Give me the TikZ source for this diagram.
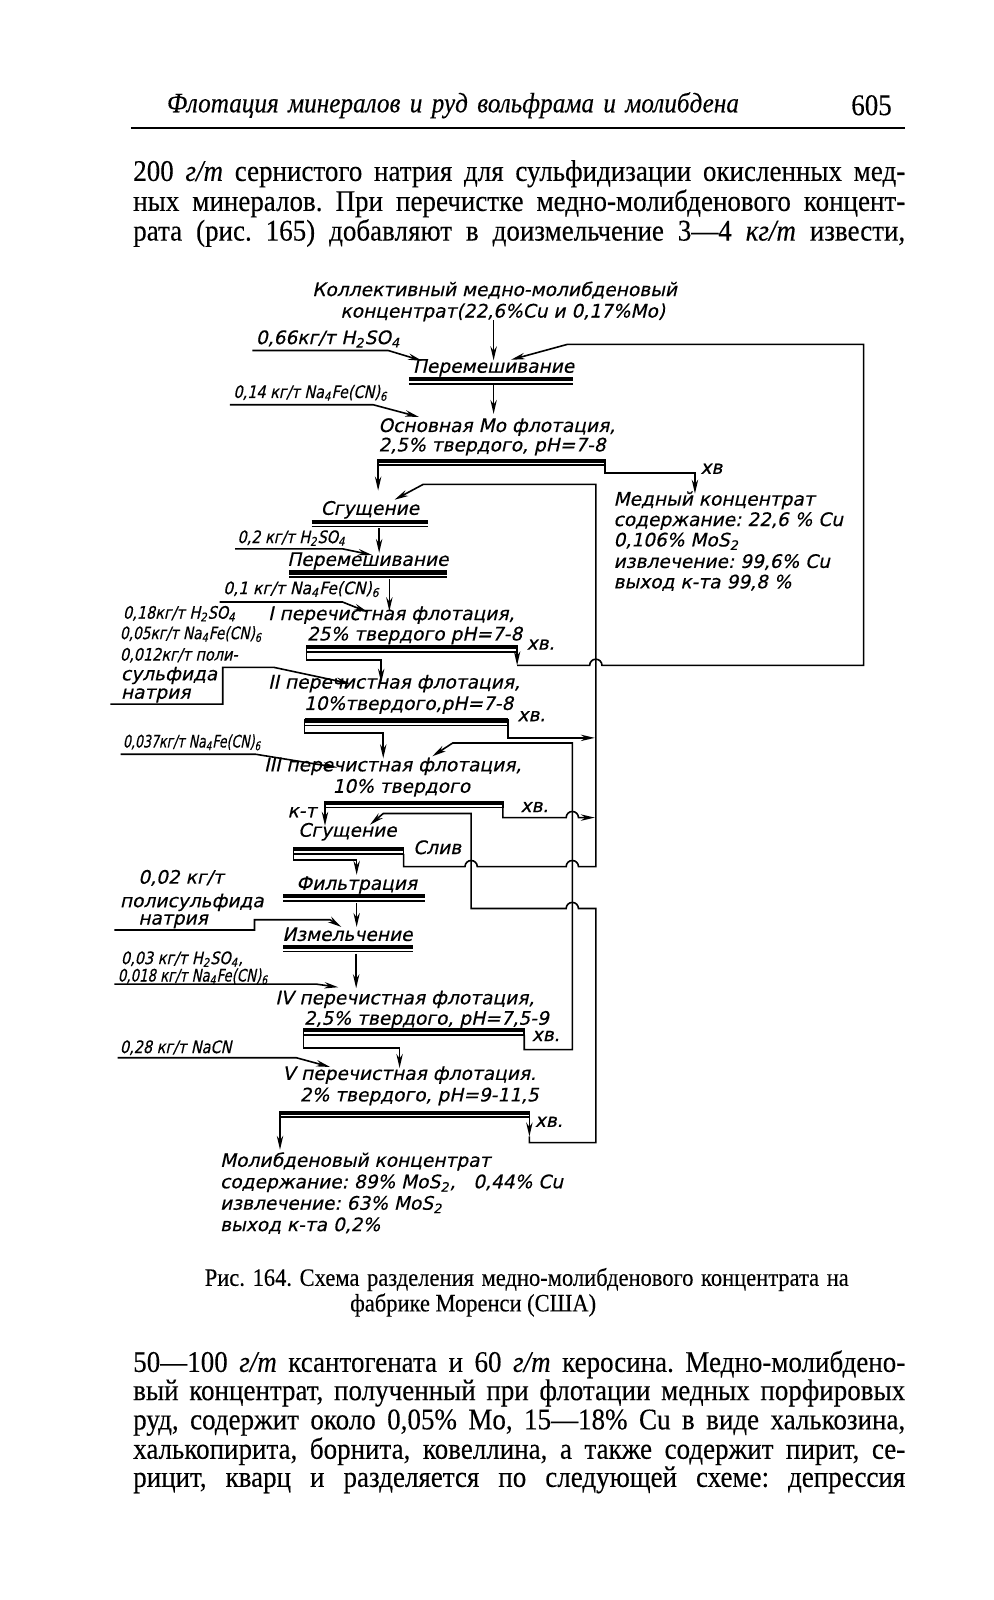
\documentclass[tikz,border=0pt]{standalone}
\usepackage{fontspec}
\setmainfont[FakeStretch=0.9,FakeBold=0.25]{Liberation Serif}
\newfontfamily\dfont[FakeSlant=0.22,FakeBold=0.4]{DejaVu Sans}
\newfontfamily\dnarrow[FakeSlant=0.22,FakeStretch=0.84,FakeBold=0.4]{DejaVu Sans}
\usetikzlibrary{arrows.meta}
\tikzset{
  pipe/.style={line width=0.8pt},
  flow/.style={line width=0.8pt,-{Stealth[length=7pt,width=3.2pt]}},
  bar/.style={line width=2.2pt},
  lbl/.style={font=\dfont\fontsize{9.3}{11}\selectfont,inner sep=0pt,anchor=west,text height=6pt,text depth=1.2pt},
  lbln/.style={font=\dnarrow\fontsize{8.6}{10}\selectfont,inner sep=0pt,anchor=west,text height=5.6pt,text depth=1.1pt},
  txt/.style={font=\fontsize{15}{17}\selectfont,inner sep=0pt,anchor=west},
  hdr/.style={font=\fontsize{14}{16}\selectfont\itshape,inner sep=0pt,anchor=west},
  capt/.style={font=\fontsize{12.5}{14}\selectfont,inner sep=0pt,anchor=west},
}
\newcommand{\hopR}[2]{-- (#1-6,#2) arc[start angle=180,end angle=0,radius=3.07pt]}
\newcommand{\hopL}[2]{-- (#1+6,#2) arc[start angle=0,end angle=180,radius=3.07pt]}
\newcommand{\flotcell}[4]{%
  \draw[pipe] (#1,#3) rectangle (#2,#4);
  \draw[bar] (#1,#3+1) -- (#2,#3+1);}
\newcommand{\dbar}[3]{%
  \draw[bar] (#1,#3) -- (#2,#3);
  \draw[pipe] (#1,#3+4.5) -- (#2,#3+4.5);}
\newcommand{\squeeze}[2]{\scalebox{#1}[1]{#2}}
\begin{document}
\frenchspacing
\begin{tikzpicture}[x=0.511pt,y=-0.511pt]
\fill[white] (0,0) rectangle (972.6,1565.6);
\useasboundingbox (0,0) rectangle (972.6,1565.6);

\node[hdr] (head) at (163,103) {\makebox[286pt][s]{Флотация минералов и руд вольфрама и молибдена}};
\node[txt,anchor=east] (pageno) at (873,103) {605};
\draw[pipe] (128,125) -- (886,125);
\node[txt] (la) at (130,170) {\makebox[386pt][s]{200 \textit{г/т} сернистого натрия для сульфидизации окисленных мед-}};
\node[txt] (lb) at (130,199) {\makebox[386pt][s]{ных минералов. При перечистке медно-молибденового концент-}};
\node[txt] (lc) at (130,228) {\makebox[386pt][s]{рата (рис. 165) добавляют в доизмельчение 3—4 \textit{кг/т} извести,}};

\node[lbl,anchor=center] (feedA) at (484,285) {Коллективный медно-молибденовый};
\node[lbl,anchor=center] (feedB) at (492,306) {концентрат(22,6\%Cu и 0,17\%Mo)};
\node[lbl,anchor=center] (mixA) at (483,360) {Перемешивание};
\draw[flow] (feedB.south -| mixA) -- (mixA.north);
\dbar{400}{561}{371}
\node[lbl] (r66) at (250,332) {0,66кг/т H\textsubscript{2}SO\textsubscript{4}};
\draw[flow] (247,343) -- (380,343) -- (413,353);
\draw[flow] (483,377) -- (483,405);
\node[lbln] (r14) at (228,385) {0,14 кг/т Na\textsubscript{4}Fe(CN)\textsubscript{6}};
\draw[flow] (225,396) -- (365,396) -- (410,408);

\node[lbl] (flMa) at (370,418) {Основная Mo флотация,};
\node[lbl] (flMb) at (370,437) {2,5\% твердого, pH=7-8};
\flotcell{370}{592}{450}{455}
\draw[flow] (370,455) -- (370,480);
\draw[flow] (592,455) -- (592,463) -- (680,463) -- (680,483);
\node[lbl] (xvM) at (685,459) {хв};
\node[lbl] (cuA) at (600,490) {Медный концентрат};
\node[lbl] (cuB) at (600,510) {содержание: 22,6 \% Cu};
\node[lbl] (cuC) at (600,530) {0,106\% MoS\textsubscript{2}};
\node[lbl] (cuD) at (600,551) {извлечение: 99,6\% Cu};
\node[lbl] (cuE) at (600,571) {выход к-та 99,8 \%};

\node[lbl,anchor=center] (thA) at (362,499) {Сгущение};
\dbar{305}{419}{510.5}
\draw[flow] (371,517) -- (371,541);
\node[lbln] (r2) at (232,527) {0,2 кг/т H\textsubscript{2}SO\textsubscript{4}};
\draw[flow] (230,537) -- (335,537) -- (364,543);
\node[lbl,anchor=center] (mixB) at (360,549) {Перемешивание};
\dbar{283}{437}{560}
\node[lbln] (r1) at (218,577) {\squeeze{1.08}{0,1 кг/т Na\textsubscript{4}Fe(CN)\textsubscript{6}}};
\draw[flow] (215,589) -- (335,589) -- (360,599);
\draw[flow] (381,567) -- (381,598);

\node[lbln] (rl1) at (120,601) {0,18кг/т H\textsubscript{2}SO\textsubscript{4}};
\node[lbln] (rl2) at (117,621) {\squeeze{0.95}{0,05кг/т Na\textsubscript{4}Fe(CN)\textsubscript{6}}};
\node[lbln] (rl3) at (117,642) {0,012кг/т поли-};
\node[lbl] (rl4) at (118,661) {сульфида};
\node[lbl] (rl5) at (118,679) {натрия};
\draw[flow] (108,689) -- (218,689) -- (218,653) -- (268,653) -- (343,669);

\node[lbl] (flIa) at (262,602) {I перечистная флотация,};
\node[lbl] (flIb) at (300,622) {25\% твердого pH=7-8};
\flotcell{300}{506}{632}{638}
\node[lbl] (xvI) at (515,631) {хв.};
\draw[flow] (506,638) -- (506,651);
\draw[flow] (506,651) \hopR{583}{651} -- (845,651) -- (845,337) -- (555,337) -- (500,352);
\draw[flow] (300,638) -- (300,646) -- (373,646) -- (373,668);

\node[lbl] (flIIa) at (262,669) {II перечистная флотация,};
\node[lbl] (flIIb) at (297,690) {10\%твердого,pH=7-8};
\flotcell{298}{497}{704}{710}
\node[lbl] (xvII) at (506,701) {хв.};
\draw[flow] (497,710) -- (497,722) -- (582,722);
\draw[flow] (298,710) -- (298,717) -- (375,717) -- (375,742);
\node[lbln] (r037) at (120,727) {\squeeze{0.87}{0,037кг/т Na\textsubscript{4}Fe(CN)\textsubscript{6}}};
\draw[flow] (118,738) -- (250,738) -- (330,751);

\node[lbl] (flIIIa) at (258,750) {III перечистная флотация,};
\node[lbl] (flIIIb) at (325,771) {10\% твердого};
\flotcell{318}{492}{784.5}{790}
\node[lbl] (xvIII) at (509,790) {хв.};
\draw[flow] (492,790) -- (492,800) \hopR{560}{800} -- (582,800);
\node[lbl] (kt) at (281,795) {к-т};
\draw[flow] (318,790) -- (318,808);

\node[lbl,anchor=center] (thB) at (340,814) {Сгущение};
\flotcell{287}{395}{830}{835.5}
\node[lbl] (sliv) at (404,831) {Слив};
\draw[flow] (395,835.5) -- (395,848) \hopR{461}{848} \hopR{560}{848} -- (583,848) -- (583,474) -- (414,474) -- (386,489);
\draw[flow] (287,835.5) -- (287,841.5) -- (349,841.5) -- (349,856);

\node[lbl,anchor=center] (filt) at (349,866) {Фильтрация};
\dbar{277}{416}{877}
\node[lbl] (rpA) at (135,860) {0,02 кг/т};
\node[lbl] (rpB) at (117,883) {полисульфида};
\node[lbl] (rpC) at (135,900) {натрия};
\draw[flow] (112,910) -- (249,910) -- (249,900) -- (323,900) -- (334,907);
\draw[flow] (349,884) -- (349,907);
\node[lbl,anchor=center] (grind) at (340,916) {Измельчение};
\dbar{277}{404}{926.5}
\draw[flow] (348.5,933) -- (348.5,967);
\node[lbln] (r03) at (118,939) {0,03 кг/т H\textsubscript{2}SO\textsubscript{4},};
\node[lbln] (r018) at (115,956) {\squeeze{0.92}{0,018 кг/т Na\textsubscript{4}Fe(CN)\textsubscript{6}}};
\draw[flow] (112,963) -- (310,963) -- (331,966);

\node[lbl] (flIVa) at (269,978) {IV перечистная флотация,};
\node[lbl] (flIVb) at (297,998) {2,5\% твердого, pH=7,5-9};
\flotcell{297}{513}{1007}{1013}
\node[lbl] (xvIV) at (520,1014) {хв.};
\draw[flow] (513,1013) -- (513,1027) -- (560,1027) -- (560,727) -- (443,727) -- (423,740);
\draw[flow] (297,1013) -- (297,1025.5) -- (391,1025.5) -- (391,1045);
\node[lbln] (rcn) at (117,1026) {0,28 кг/т NaCN};
\draw[flow] (115,1035) -- (290,1035) -- (323,1044);

\node[lbl] (flVa) at (276,1052) {V перечистная флотация.};
\node[lbl] (flVb) at (293,1073) {2\% твердого, pH=9-11,5};
\flotcell{274}{518}{1088}{1093}
\node[lbl] (xvV) at (523,1098) {хв.};
\draw[flow] (518,1093) -- (518,1112);
\draw[flow] (518,1112) -- (518,1118) -- (583,1118) -- (583,889) \hopL{560}{889} -- (461,889) -- (461,796) -- (375,796) -- (362,807);
\draw[flow] (274,1093) -- (274,1125);

\node[lbl] (moA) at (215,1137) {Молибденовый концентрат};
\node[lbl] (moB) at (215,1158) {содержание: 89\% MoS\textsubscript{2}, \ \ 0,44\% Cu};
\node[lbl] (moC) at (215,1179) {извлечение: 63\% MoS\textsubscript{2}};
\node[lbl] (moD) at (215,1200) {выход к-та 0,2\%};

\node[capt] (capA) at (200,1252) {\makebox[322pt][s]{Рис. 164. Схема разделения медно-молибденового концентрата на}};
\node[capt,anchor=center] (capB) at (463,1277) {фабрике Моренси (США)};

\node[txt] (ld) at (130,1335) {\makebox[386pt][s]{50—100 \textit{г/т} ксантогената и 60 \textit{г/т} керосина. Медно-молибдено-}};
\node[txt] (le) at (130,1363) {\makebox[386pt][s]{вый концентрат, полученный при флотации медных порфировых}};
\node[txt] (lf) at (130,1392) {\makebox[386pt][s]{руд, содержит около 0,05\% Mo, 15—18\% Cu в виде халькозина,}};
\node[txt] (lg) at (130,1420) {\makebox[386pt][s]{халькопирита, борнита, ковеллина, а также содержит пирит, се-}};
\node[txt] (lh) at (130,1448) {\makebox[386pt][s]{рицит, кварц и разделяется по следующей схеме: депрессия}};
\end{tikzpicture}
\end{document}
